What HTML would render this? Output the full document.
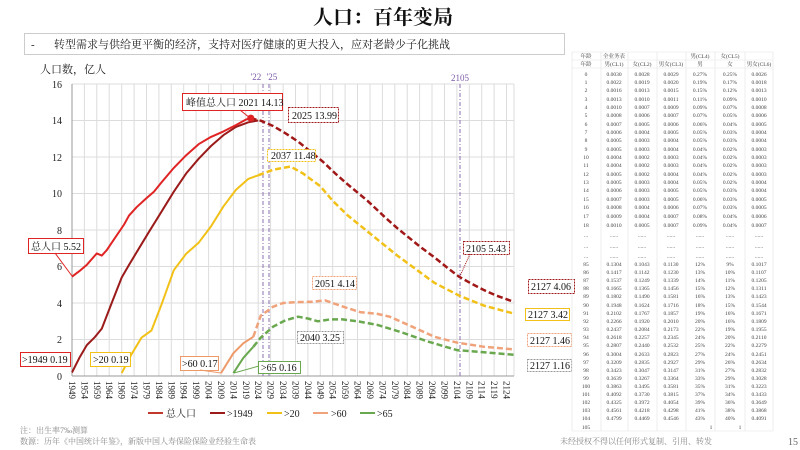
<!DOCTYPE html>
<html><head><meta charset="utf-8"><style>
html,body{margin:0;padding:0;background:#fff;}
body{width:800px;height:450px;overflow:hidden;position:relative;font-family:"Liberation Serif","Noto Serif CJK SC",serif;}
svg{position:absolute;left:0;top:0;}
</style></head><body>
<svg width="800" height="450" xmlns="http://www.w3.org/2000/svg" font-family="Liberation Serif, Noto Serif CJK SC, serif">
<text x="383" y="24" font-size="20" font-weight="bold" text-anchor="middle" fill="#111">人口：百年变局</text>
<rect x="24.5" y="33.5" width="540" height="21" fill="#fff" stroke="#ccc"/>
<text x="31" y="48" font-size="11" fill="#222">-</text>
<text x="54" y="48" font-size="11" fill="#222">转型需求与供给更平衡的经济，支持对医疗健康的更大投入，应对老龄少子化挑战</text>
<text x="40" y="73" font-size="11" fill="#222">人口数，亿人</text>
<g stroke="#dcdcdc" stroke-width="1">
<line x1="72" y1="84" x2="514" y2="84"/><line x1="72" y1="120.5" x2="514" y2="120.5"/><line x1="72" y1="157" x2="514" y2="157"/><line x1="72" y1="193.5" x2="514" y2="193.5"/><line x1="72" y1="230" x2="514" y2="230"/><line x1="72" y1="266.5" x2="514" y2="266.5"/><line x1="72" y1="303" x2="514" y2="303"/><line x1="72" y1="339.5" x2="514" y2="339.5"/>
<line x1="84.4" y1="84" x2="84.4" y2="376"/><line x1="96.8" y1="84" x2="96.8" y2="376"/><line x1="109.2" y1="84" x2="109.2" y2="376"/><line x1="121.7" y1="84" x2="121.7" y2="376"/><line x1="134.1" y1="84" x2="134.1" y2="376"/><line x1="146.5" y1="84" x2="146.5" y2="376"/><line x1="158.9" y1="84" x2="158.9" y2="376"/><line x1="171.3" y1="84" x2="171.3" y2="376"/><line x1="183.7" y1="84" x2="183.7" y2="376"/><line x1="196.1" y1="84" x2="196.1" y2="376"/><line x1="208.6" y1="84" x2="208.6" y2="376"/><line x1="221" y1="84" x2="221" y2="376"/><line x1="233.4" y1="84" x2="233.4" y2="376"/><line x1="245.8" y1="84" x2="245.8" y2="376"/><line x1="258.2" y1="84" x2="258.2" y2="376"/><line x1="270.6" y1="84" x2="270.6" y2="376"/><line x1="283.1" y1="84" x2="283.1" y2="376"/><line x1="295.5" y1="84" x2="295.5" y2="376"/><line x1="307.9" y1="84" x2="307.9" y2="376"/><line x1="320.3" y1="84" x2="320.3" y2="376"/><line x1="332.7" y1="84" x2="332.7" y2="376"/><line x1="345.1" y1="84" x2="345.1" y2="376"/><line x1="357.5" y1="84" x2="357.5" y2="376"/><line x1="370" y1="84" x2="370" y2="376"/><line x1="382.4" y1="84" x2="382.4" y2="376"/><line x1="394.8" y1="84" x2="394.8" y2="376"/><line x1="407.2" y1="84" x2="407.2" y2="376"/><line x1="419.6" y1="84" x2="419.6" y2="376"/><line x1="432" y1="84" x2="432" y2="376"/><line x1="444.5" y1="84" x2="444.5" y2="376"/><line x1="456.9" y1="84" x2="456.9" y2="376"/><line x1="469.3" y1="84" x2="469.3" y2="376"/><line x1="481.7" y1="84" x2="481.7" y2="376"/><line x1="494.1" y1="84" x2="494.1" y2="376"/><line x1="506.5" y1="84" x2="506.5" y2="376"/><line x1="514" y1="84" x2="514" y2="376"/>
</g>
<line x1="72" y1="84" x2="72" y2="376" stroke="#999"/>
<line x1="72" y1="376" x2="514" y2="376" stroke="#999"/>
<g font-size="10" text-anchor="end" fill="#222">
<text x="62" y="88">16</text><text x="62" y="124">14</text><text x="62" y="161">12</text><text x="62" y="197">10</text><text x="62" y="234">8</text><text x="62" y="270">6</text><text x="62" y="307">4</text><text x="62" y="343">2</text><text x="62" y="380">0</text>
</g>
<g font-size="9" fill="#222">
<text transform="translate(69,381) rotate(90)">1949</text><text transform="translate(81.4,381) rotate(90)">1954</text><text transform="translate(93.8,381) rotate(90)">1959</text><text transform="translate(106.2,381) rotate(90)">1964</text><text transform="translate(118.7,381) rotate(90)">1969</text><text transform="translate(131.1,381) rotate(90)">1974</text><text transform="translate(143.5,381) rotate(90)">1979</text><text transform="translate(155.9,381) rotate(90)">1984</text><text transform="translate(168.3,381) rotate(90)">1989</text><text transform="translate(180.7,381) rotate(90)">1994</text><text transform="translate(193.1,381) rotate(90)">1999</text><text transform="translate(205.6,381) rotate(90)">2004</text><text transform="translate(218,381) rotate(90)">2009</text><text transform="translate(230.4,381) rotate(90)">2014</text><text transform="translate(242.8,381) rotate(90)">2019</text><text transform="translate(255.2,381) rotate(90)">2024</text><text transform="translate(267.6,381) rotate(90)">2029</text><text transform="translate(280.1,381) rotate(90)">2034</text><text transform="translate(292.5,381) rotate(90)">2039</text><text transform="translate(304.9,381) rotate(90)">2044</text><text transform="translate(317.3,381) rotate(90)">2049</text><text transform="translate(329.7,381) rotate(90)">2054</text><text transform="translate(342.1,381) rotate(90)">2059</text><text transform="translate(354.5,381) rotate(90)">2064</text><text transform="translate(367,381) rotate(90)">2069</text><text transform="translate(379.4,381) rotate(90)">2074</text><text transform="translate(391.8,381) rotate(90)">2079</text><text transform="translate(404.2,381) rotate(90)">2084</text><text transform="translate(416.6,381) rotate(90)">2089</text><text transform="translate(429,381) rotate(90)">2094</text><text transform="translate(441.5,381) rotate(90)">2099</text><text transform="translate(453.9,381) rotate(90)">2104</text><text transform="translate(466.3,381) rotate(90)">2109</text><text transform="translate(478.7,381) rotate(90)">2114</text><text transform="translate(491.1,381) rotate(90)">2119</text><text transform="translate(503.5,381) rotate(90)">2124</text>
</g>
<g stroke="#8a6fb0" stroke-width="1" stroke-dasharray="4,2,1,2">
<line x1="263" y1="84" x2="263" y2="376"/><line x1="269" y1="84" x2="269" y2="376"/><line x1="460" y1="84" x2="460" y2="376"/>
</g>
<g font-size="9" fill="#7a5aa8" text-anchor="middle">
<text x="256" y="80">'22</text><text x="272" y="80">'25</text><text x="460" y="81">2105</text>
</g>
<g fill="none" stroke-width="2" stroke-linejoin="round">
<polyline stroke="#9b1b1b" points="72,372.5 79.4,357.8 86.9,345 94.3,337.7 101.8,328.6 111.7,303 121.7,277.5 129.1,264.7 139,248.3 149,231.8 161.4,211.8 173.8,191.7 186.2,173.4 198.6,158.8 211,146 223.5,135.1 235.9,126.9 248.3,122.3 258.2,120.5"/>
<polyline stroke="#e02424" points="72,276.7 79.4,271.1 86.9,264.7 96.8,253.4 101.8,255.6 106.8,250.1 114.2,239.1 124.1,224.5 129.1,215.4 136.6,207.2 146.5,198.1 153.9,191.7 161.4,182.5 173.8,167.9 186.2,155.2 198.6,144.2 211,136.9 223.5,131.4 235.9,125.1 245.8,119.6 250.8,118.1"/>
<polyline stroke="#a01818" stroke-width="2.5" stroke-dasharray="6,3" points="250.8,118.1 255.8,119.6 260.7,120.7 273.1,126 285.5,133.3 298,141.5 310.4,151.5 322.8,161.6 335.2,173.4 347.7,184.4 367.5,200.8 384.9,217.2 397.3,228.2 419.7,246.4 434.5,257.4 446.9,267.4 459.3,276.9 471.8,283.8 484.2,290.2 496.6,295.7 514,301.9"/>
<polyline stroke="#f2c118" points="121.7,373.1 131.6,354.1 141.5,337.7 151.5,330.4 161.4,304.8 173.8,270.2 186.2,253.7 198.6,242.8 211,226.4 223.5,206.3 235.9,189.9 248.3,178.9 258.2,175.3"/>
<polyline stroke="#f2c118" stroke-width="2.5" stroke-dasharray="6,3" points="258.2,175.3 273.1,169.8 290.5,166.5 302.9,173.4 320.3,186.2 332.7,200.8 347.7,215.4 372.5,235.5 397.3,255.6 412.2,266.5 434.5,282.9 459.3,295.7 484.2,305.7 514,313.6"/>
<polyline stroke="#ee9a68" points="221,373.1 226,365 233.4,353.2 243.4,343.2 253.3,336.8"/>
<polyline stroke="#f0a27a" stroke-width="2.5" stroke-dasharray="6,3" points="253.3,336.8 260.7,315.8 273.1,306.7 283,303 298,302.1 312.8,301.7 325.3,300.4 340.2,305.7 360,312.1 377.4,313.9 389.8,316.7 412.2,326.7 434.5,336.8 456.9,342.6 484.2,346.8 514,349.4"/>
<polyline stroke="#6aa84f" points="233.4,373.1 243.4,357.8 253.3,346.8"/>
<polyline stroke="#6aa84f" stroke-width="2.5" stroke-dasharray="6,3" points="253.3,346.8 260.7,337.7 273.1,326.7 285.5,320.3 298,316.7 307.9,318.5 317.8,321.3 330.2,319.4 342.7,319.4 357.6,321.3 377.4,324.9 399.8,331.7 427.1,341.3 456.9,350.1 484.2,352.3 514,354.8"/>
</g>
<circle cx="250.8" cy="118.1" r="3.5" fill="#e02424"/>
<g font-size="10" fill="#111">
<rect x="182.5" y="93.5" width="100" height="17" fill="#fff" stroke="#e02424"/><text x="186" y="106">峰值总人口 2021 14.13</text>
<line x1="240" y1="110" x2="250" y2="118" stroke="#e02424"/>
<rect x="288.5" y="107.5" width="50" height="15" fill="#fff" stroke="#a01818" stroke-dasharray="2,1"/><text x="292" y="119">2025 13.99</text>
<rect x="267.5" y="149.5" width="48" height="12" fill="#fff" stroke="#f2c118" stroke-dasharray="2,1"/><text x="271" y="159">2037 11.48</text>
<rect x="28.5" y="238.5" width="55" height="15" fill="#fff" stroke="#e02424"/><text x="31" y="250">总人口 5.52</text>
<line x1="55" y1="253" x2="72" y2="276" stroke="#e02424"/>
<rect x="20.5" y="352.5" width="50" height="14" fill="#fff" stroke="#e02424"/><text x="22" y="363">&gt;1949 0.19</text>
<rect x="90.5" y="352.5" width="40" height="14" fill="#fff" stroke="#f2c118"/><text x="93" y="363">&gt;20 0.19</text>
<rect x="180.5" y="356.5" width="38" height="14" fill="#fff" stroke="#ee9a68"/><text x="182" y="367">&gt;60 0.17</text>
<line x1="200" y1="370" x2="221" y2="373" stroke="#ee9a68"/>
<rect x="258.5" y="361.5" width="42" height="12" fill="#fff" stroke="#6aa84f"/><text x="261" y="371">&gt;65 0.16</text>
<line x1="234" y1="373" x2="259" y2="366" stroke="#6aa84f"/>
<rect x="312.5" y="276.5" width="44" height="13" fill="#fff" stroke="#f0a27a" stroke-dasharray="2,1"/><text x="315" y="287">2051 4.14</text>
<rect x="297.5" y="331.5" width="46" height="12" fill="#fff" stroke="#999" stroke-dasharray="2,1"/><text x="300" y="341">2040 3.25</text>
<rect x="463.5" y="241.5" width="46" height="13" fill="#fff" stroke="#a01818" stroke-dasharray="2,1"/><text x="466" y="252">2105 5.43</text>
<line x1="470" y1="254" x2="460" y2="276" stroke="#a01818" stroke-dasharray="1,1"/>
<rect x="528.5" y="279.5" width="46" height="14" fill="#fff" stroke="#a01818" stroke-dasharray="2,1"/><text x="531" y="290">2127 4.06</text>
<rect x="525.5" y="308.5" width="44" height="12" fill="#fff" stroke="#f2c118"/><text x="528" y="318">2127 3.42</text>
<rect x="527.5" y="333.5" width="44" height="13" fill="#fff" stroke="#f0a27a" stroke-dasharray="2,1"/><text x="530" y="344">2127 1.46</text>
<rect x="527.5" y="359.5" width="44" height="12" fill="#fff" stroke="#999" stroke-dasharray="2,1"/><text x="530" y="369">2127 1.16</text>
</g>
<g font-size="10" fill="#222">
<line x1="148" y1="413" x2="163" y2="413" stroke="#c0392b" stroke-width="2"/><text x="166" y="417">总人口</text>
<line x1="210" y1="413" x2="225" y2="413" stroke="#9b1b1b" stroke-width="2"/><text x="227" y="417">&gt;1949</text>
<line x1="267" y1="413" x2="282" y2="413" stroke="#f2c118" stroke-width="2"/><text x="284" y="417">&gt;20</text>
<line x1="313" y1="413" x2="328" y2="413" stroke="#f0a27a" stroke-width="2"/><text x="331" y="417">&gt;60</text>
<line x1="360" y1="413" x2="375" y2="413" stroke="#6aa84f" stroke-width="2"/><text x="377" y="417">&gt;65</text>
</g>
<g font-size="8" fill="#888">
<text x="20" y="433">注：出生率7‰测算</text>
<text x="20" y="444">数源：历年《中国统计年鉴》，新版中国人寿保险保险业经验生命表</text>
<text x="560" y="444">未经授权不得以任何形式复制、引用、转发</text>
</g>
<text x="788" y="445" font-size="10" fill="#666">15</text>
<g font-size="5.5" fill="#444" text-anchor="middle">
<g stroke="#e3e3e3" stroke-width="0.6">
<line x1="572" y1="52" x2="773" y2="52"/><line x1="572" y1="60" x2="773" y2="60"/><line x1="572" y1="68" x2="773" y2="68"/>
<line x1="572" y1="52" x2="572" y2="431"/><line x1="601" y1="52" x2="601" y2="431"/><line x1="628" y1="52" x2="628" y2="431"/><line x1="657" y1="52" x2="657" y2="431"/><line x1="686" y1="52" x2="686" y2="431"/><line x1="715" y1="52" x2="715" y2="431"/><line x1="745" y1="52" x2="745" y2="431"/><line x1="773" y1="52" x2="773" y2="431"/>
<line x1="572" y1="431" x2="773" y2="431"/>
</g>
<text x="586" y="58">年龄</text><text x="614" y="58">全业务表</text><text x="700" y="58">男(CL4)</text><text x="730" y="58">女(CL5)</text>
<text x="586" y="66">年龄</text><text x="614" y="66">男(CL1)</text><text x="642" y="66">女(CL2)</text><text x="671" y="66">男女(CL3)</text><text x="700" y="66">男</text><text x="730" y="66">女</text><text x="759" y="66">男女(CL6)</text>
<text x="586" y="76">0</text><text x="614" y="76">0.0030</text><text x="642" y="76">0.0028</text><text x="671" y="76">0.0029</text><text x="700" y="76">0.27%</text><text x="730" y="76">0.25%</text><text x="759" y="76">0.0026</text>
<text x="586" y="84">1</text><text x="614" y="84">0.0022</text><text x="642" y="84">0.0019</text><text x="671" y="84">0.0020</text><text x="700" y="84">0.19%</text><text x="730" y="84">0.17%</text><text x="759" y="84">0.0018</text>
<text x="586" y="92">2</text><text x="614" y="92">0.0016</text><text x="642" y="92">0.0013</text><text x="671" y="92">0.0015</text><text x="700" y="92">0.15%</text><text x="730" y="92">0.12%</text><text x="759" y="92">0.0013</text>
<text x="586" y="101">3</text><text x="614" y="101">0.0013</text><text x="642" y="101">0.0010</text><text x="671" y="101">0.0011</text><text x="700" y="101">0.11%</text><text x="730" y="101">0.09%</text><text x="759" y="101">0.0010</text>
<text x="586" y="109">4</text><text x="614" y="109">0.0010</text><text x="642" y="109">0.0007</text><text x="671" y="109">0.0009</text><text x="700" y="109">0.09%</text><text x="730" y="109">0.07%</text><text x="759" y="109">0.0008</text>
<text x="586" y="117">5</text><text x="614" y="117">0.0008</text><text x="642" y="117">0.0006</text><text x="671" y="117">0.0007</text><text x="700" y="117">0.07%</text><text x="730" y="117">0.05%</text><text x="759" y="117">0.0006</text>
<text x="586" y="126">6</text><text x="614" y="126">0.0007</text><text x="642" y="126">0.0005</text><text x="671" y="126">0.0006</text><text x="700" y="126">0.06%</text><text x="730" y="126">0.04%</text><text x="759" y="126">0.0005</text>
<text x="586" y="134">7</text><text x="614" y="134">0.0006</text><text x="642" y="134">0.0004</text><text x="671" y="134">0.0005</text><text x="700" y="134">0.05%</text><text x="730" y="134">0.03%</text><text x="759" y="134">0.0004</text>
<text x="586" y="142">8</text><text x="614" y="142">0.0005</text><text x="642" y="142">0.0003</text><text x="671" y="142">0.0004</text><text x="700" y="142">0.05%</text><text x="730" y="142">0.03%</text><text x="759" y="142">0.0004</text>
<text x="586" y="151">9</text><text x="614" y="151">0.0005</text><text x="642" y="151">0.0003</text><text x="671" y="151">0.0004</text><text x="700" y="151">0.04%</text><text x="730" y="151">0.02%</text><text x="759" y="151">0.0003</text>
<text x="586" y="159">10</text><text x="614" y="159">0.0004</text><text x="642" y="159">0.0002</text><text x="671" y="159">0.0003</text><text x="700" y="159">0.04%</text><text x="730" y="159">0.02%</text><text x="759" y="159">0.0003</text>
<text x="586" y="167">11</text><text x="614" y="167">0.0004</text><text x="642" y="167">0.0002</text><text x="671" y="167">0.0003</text><text x="700" y="167">0.04%</text><text x="730" y="167">0.02%</text><text x="759" y="167">0.0003</text>
<text x="586" y="176">12</text><text x="614" y="176">0.0005</text><text x="642" y="176">0.0002</text><text x="671" y="176">0.0004</text><text x="700" y="176">0.04%</text><text x="730" y="176">0.02%</text><text x="759" y="176">0.0003</text>
<text x="586" y="184">13</text><text x="614" y="184">0.0005</text><text x="642" y="184">0.0003</text><text x="671" y="184">0.0004</text><text x="700" y="184">0.05%</text><text x="730" y="184">0.02%</text><text x="759" y="184">0.0004</text>
<text x="586" y="192">14</text><text x="614" y="192">0.0006</text><text x="642" y="192">0.0003</text><text x="671" y="192">0.0005</text><text x="700" y="192">0.05%</text><text x="730" y="192">0.03%</text><text x="759" y="192">0.0004</text>
<text x="586" y="201">15</text><text x="614" y="201">0.0007</text><text x="642" y="201">0.0003</text><text x="671" y="201">0.0005</text><text x="700" y="201">0.06%</text><text x="730" y="201">0.03%</text><text x="759" y="201">0.0005</text>
<text x="586" y="209">16</text><text x="614" y="209">0.0008</text><text x="642" y="209">0.0004</text><text x="671" y="209">0.0006</text><text x="700" y="209">0.07%</text><text x="730" y="209">0.03%</text><text x="759" y="209">0.0005</text>
<text x="586" y="218">17</text><text x="614" y="218">0.0009</text><text x="642" y="218">0.0004</text><text x="671" y="218">0.0007</text><text x="700" y="218">0.08%</text><text x="730" y="218">0.04%</text><text x="759" y="218">0.0006</text>
<text x="586" y="227">18</text><text x="614" y="227">0.0010</text><text x="642" y="227">0.0005</text><text x="671" y="227">0.0007</text><text x="700" y="227">0.09%</text><text x="730" y="227">0.04%</text><text x="759" y="227">0.0007</text>
<text x="586" y="237">...</text><text x="614" y="237">......</text><text x="642" y="237">......</text><text x="671" y="237">......</text><text x="700" y="237">......</text><text x="730" y="237">......</text><text x="759" y="237">......</text>
<text x="586" y="248">...</text><text x="614" y="248">......</text><text x="642" y="248">......</text><text x="671" y="248">......</text><text x="700" y="248">......</text><text x="730" y="248">......</text><text x="759" y="248">......</text>
<text x="586" y="258">...</text><text x="614" y="258">......</text><text x="642" y="258">......</text><text x="671" y="258">......</text><text x="700" y="258">......</text><text x="730" y="258">......</text><text x="759" y="258">......</text>
<text x="586" y="266">85</text><text x="614" y="266">0.1304</text><text x="642" y="266">0.1043</text><text x="671" y="266">0.1130</text><text x="700" y="266">12%</text><text x="730" y="266">9%</text><text x="759" y="266">0.1017</text>
<text x="586" y="274">86</text><text x="614" y="274">0.1417</text><text x="642" y="274">0.1142</text><text x="671" y="274">0.1230</text><text x="700" y="274">13%</text><text x="730" y="274">10%</text><text x="759" y="274">0.1107</text>
<text x="586" y="282">87</text><text x="614" y="282">0.1537</text><text x="642" y="282">0.1249</text><text x="671" y="282">0.1339</text><text x="700" y="282">14%</text><text x="730" y="282">11%</text><text x="759" y="282">0.1205</text>
<text x="586" y="290">88</text><text x="614" y="290">0.1665</text><text x="642" y="290">0.1365</text><text x="671" y="290">0.1456</text><text x="700" y="290">15%</text><text x="730" y="290">12%</text><text x="759" y="290">0.1311</text>
<text x="586" y="298">89</text><text x="614" y="298">0.1802</text><text x="642" y="298">0.1490</text><text x="671" y="298">0.1581</text><text x="700" y="298">16%</text><text x="730" y="298">13%</text><text x="759" y="298">0.1423</text>
<text x="586" y="307">90</text><text x="614" y="307">0.1948</text><text x="642" y="307">0.1624</text><text x="671" y="307">0.1716</text><text x="700" y="307">18%</text><text x="730" y="307">15%</text><text x="759" y="307">0.1544</text>
<text x="586" y="315">91</text><text x="614" y="315">0.2102</text><text x="642" y="315">0.1767</text><text x="671" y="315">0.1857</text><text x="700" y="315">19%</text><text x="730" y="315">16%</text><text x="759" y="315">0.1671</text>
<text x="586" y="323">92</text><text x="614" y="323">0.2266</text><text x="642" y="323">0.1920</text><text x="671" y="323">0.2010</text><text x="700" y="323">20%</text><text x="730" y="323">16%</text><text x="759" y="323">0.1809</text>
<text x="586" y="331">93</text><text x="614" y="331">0.2437</text><text x="642" y="331">0.2084</text><text x="671" y="331">0.2173</text><text x="700" y="331">22%</text><text x="730" y="331">19%</text><text x="759" y="331">0.1955</text>
<text x="586" y="339">94</text><text x="614" y="339">0.2618</text><text x="642" y="339">0.2257</text><text x="671" y="339">0.2345</text><text x="700" y="339">24%</text><text x="730" y="339">20%</text><text x="759" y="339">0.2110</text>
<text x="586" y="347">95</text><text x="614" y="347">0.2807</text><text x="642" y="347">0.2440</text><text x="671" y="347">0.2532</text><text x="700" y="347">25%</text><text x="730" y="347">22%</text><text x="759" y="347">0.2279</text>
<text x="586" y="356">96</text><text x="614" y="356">0.3004</text><text x="642" y="356">0.2633</text><text x="671" y="356">0.2823</text><text x="700" y="356">27%</text><text x="730" y="356">24%</text><text x="759" y="356">0.2451</text>
<text x="586" y="364">97</text><text x="614" y="364">0.3209</text><text x="642" y="364">0.2835</text><text x="671" y="364">0.2927</text><text x="700" y="364">29%</text><text x="730" y="364">26%</text><text x="759" y="364">0.2634</text>
<text x="586" y="372">98</text><text x="614" y="372">0.3423</text><text x="642" y="372">0.3047</text><text x="671" y="372">0.3147</text><text x="700" y="372">31%</text><text x="730" y="372">27%</text><text x="759" y="372">0.2832</text>
<text x="586" y="380">99</text><text x="614" y="380">0.3639</text><text x="642" y="380">0.3267</text><text x="671" y="380">0.3364</text><text x="700" y="380">33%</text><text x="730" y="380">29%</text><text x="759" y="380">0.3028</text>
<text x="586" y="388">100</text><text x="614" y="388">0.3863</text><text x="642" y="388">0.3495</text><text x="671" y="388">0.3581</text><text x="700" y="388">35%</text><text x="730" y="388">31%</text><text x="759" y="388">0.3223</text>
<text x="586" y="396">101</text><text x="614" y="396">0.4092</text><text x="642" y="396">0.3730</text><text x="671" y="396">0.3815</text><text x="700" y="396">37%</text><text x="730" y="396">34%</text><text x="759" y="396">0.3433</text>
<text x="586" y="404">102</text><text x="614" y="404">0.4325</text><text x="642" y="404">0.3972</text><text x="671" y="404">0.4054</text><text x="700" y="404">39%</text><text x="730" y="404">36%</text><text x="759" y="404">0.3649</text>
<text x="586" y="412">103</text><text x="614" y="412">0.4561</text><text x="642" y="412">0.4218</text><text x="671" y="412">0.4298</text><text x="700" y="412">41%</text><text x="730" y="412">38%</text><text x="759" y="412">0.3868</text>
<text x="586" y="420">104</text><text x="614" y="420">0.4799</text><text x="642" y="420">0.4469</text><text x="671" y="420">0.4546</text><text x="700" y="420">43%</text><text x="730" y="420">40%</text><text x="759" y="420">0.4091</text>
<text x="586" y="429">105</text><text x="711" y="429">1</text><text x="740" y="429">1</text>
</g>
</svg>
</body></html>
